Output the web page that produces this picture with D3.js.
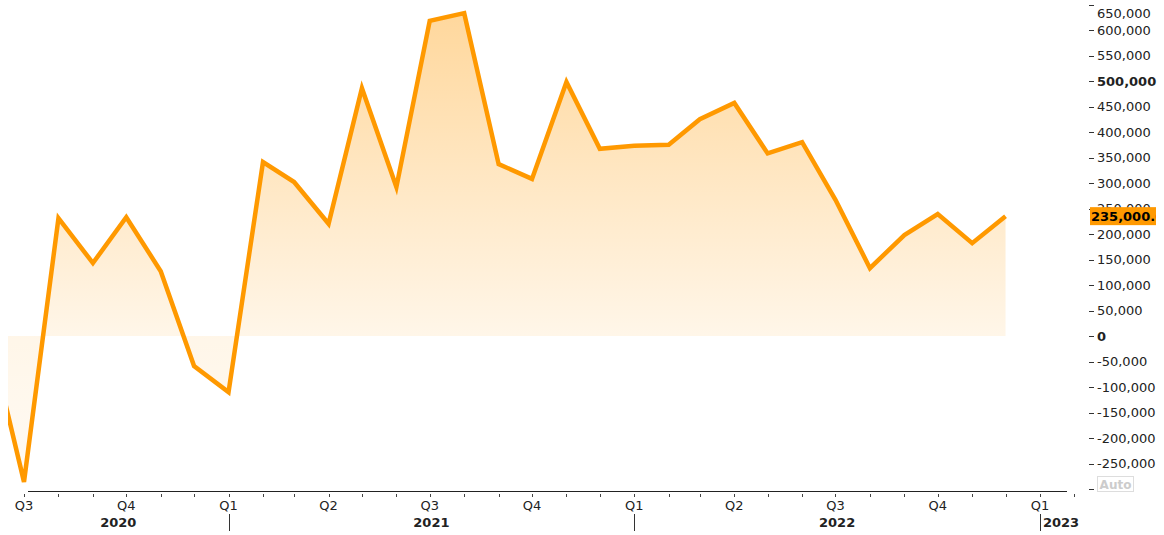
<!DOCTYPE html>
<html>
<head>
<meta charset="utf-8">
<script src="https://cdn.jsdelivr.net/npm/d3@7"></script>
<style>
    body { margin: 0; background: #fff; }
    text { font-family: "DejaVu Sans", Verdana, sans-serif; font-size: 13px; fill: #222; }
</style>
</head>
<body>
<svg id="s1"></svg>
<script>
//Data (monthly, first point is clipped at the left edge)
var months = ["2020-06", "2020-07", "2020-08", "2020-09", "2020-10", "2020-11", "2020-12",
    "2021-01", "2021-02", "2021-03", "2021-04", "2021-05", "2021-06", "2021-07", "2021-08",
    "2021-09", "2021-10", "2021-11", "2021-12",
    "2022-01", "2022-02", "2022-03", "2022-04", "2022-05", "2022-06", "2022-07", "2022-08",
    "2022-09", "2022-10", "2022-11", "2022-12"];
var values = [-12000, -286000, 231000, 143000, 233000, 127000, -59000,
    -110000, 341000, 302000, 220000, 486000, 292000, 618000, 633000,
    337000, 308000, 498000, 367000,
    373000, 375000, 425000, 457000, 358000, 380000, 267000, 133000,
    198000, 239000, 182000, 235000];
var yTicks = [-300000, -250000, -200000, -150000, -100000, -50000, 0, 50000, 100000, 150000,
    200000, 250000, 300000, 350000, 400000, 450000, 500000, 550000, 600000, 650000];
var boldTicks = [0, 500000];
var quarterLabels = ["Q1", "Q2", "Q3", "Q4"];
var years = [2020, 2021, 2022, 2023];
var lastLabel = "235,000.0";

//Variable definitions
var width = 1164;
var height = 535;
var plotLeft = 8;
var plotRight = 1067;
var plotBottom = 491;
var lineColor = "#ff9900";

var svg = d3.select("#s1").attr("width", width)
    .attr("height", height);

var data = months.map(function (m, i) {
    var p = m.split("-");
    return { date: new Date(Date.UTC(+p[0], +p[1] - 1, 1)), value: values[i] };
});

var x = d3.scaleUtc()
    .domain([new Date(Date.UTC(2020, 6, 1)), new Date(Date.UTC(2023, 0, 1))])
    .range([24, 1040]);

var y = d3.scaleLinear()
    .domain([-250000, 650000])
    .range([463.5, 4.5]);

var defs = svg.append("defs");

defs.append("clipPath").attr("id", "plotClip")
    .append("rect")
    .attr("x", plotLeft).attr("y", 0)
    .attr("width", plotRight - plotLeft).attr("height", plotBottom);

// gradient for the area fill
var grad = defs.append("linearGradient")
    .attr("id", "areaGrad")
    .attr("gradientUnits", "userSpaceOnUse")
    .attr("x1", 0).attr("y1", 0).attr("x2", 0).attr("y2", plotBottom);
grad.append("stop").attr("offset", 0).attr("stop-color", lineColor).attr("stop-opacity", 0.4);
grad.append("stop").attr("offset", 0.68).attr("stop-color", lineColor).attr("stop-opacity", 0.09);
grad.append("stop").attr("offset", 1).attr("stop-color", lineColor).attr("stop-opacity", 0.04);

var plot = svg.append("g").attr("clip-path", "url(#plotClip)");

var area = d3.area()
    .x(function (d) { return x(d.date); })
    .y0(y(0))
    .y1(function (d) { return y(d.value); });

var line = d3.line()
    .x(function (d) { return x(d.date); })
    .y(function (d) { return y(d.value); });

plot.append("path")
    .datum(data)
    .attr("d", area)
    .style("fill", "url(#areaGrad)");

plot.append("path")
    .datum(data)
    .attr("d", line)
    .style("fill", "none")
    .style("stroke", lineColor)
    .style("stroke-width", 4.5)
    .style("stroke-linejoin", "miter");

// X axis
svg.append("line")
    .attr("x1", 28).attr("x2", plotRight)
    .attr("y1", plotBottom + 0.5).attr("y2", plotBottom + 0.5)
    .style("stroke", "#222").style("stroke-width", 1);

var monthTicks = d3.utcMonth.range(new Date(Date.UTC(2020, 6, 1)), new Date(Date.UTC(2023, 1, 2)));
svg.selectAll(".mtick")
    .data(monthTicks)
    .enter().append("line")
    .attr("class", "mtick")
    .attr("x1", function (d) { return Math.round(x(d)) + 0.5; })
    .attr("x2", function (d) { return Math.round(x(d)) + 0.5; })
    .attr("y1", 494).attr("y2", 497)
    .style("stroke", "#444");

var quarters = d3.utcMonth.every(3).range(new Date(Date.UTC(2020, 6, 1)), new Date(Date.UTC(2023, 0, 2)));
svg.selectAll(".qlabel")
    .data(quarters)
    .enter().append("text")
    .attr("class", "qlabel")
    .attr("x", function (d) { return x(d); })
    .attr("y", 510)
    .attr("text-anchor", "middle")
    .text(function (d) { return quarterLabels[Math.floor(d.getUTCMonth() / 3)]; });

// year separators and labels
var yearStarts = years.slice(1).map(function (yr) { return new Date(Date.UTC(yr, 0, 1)); });
svg.selectAll(".ysep")
    .data(yearStarts)
    .enter().append("line")
    .attr("class", "ysep")
    .attr("x1", function (d) { return Math.round(x(d)) + 0.5; })
    .attr("x2", function (d) { return Math.round(x(d)) + 0.5; })
    .attr("y1", 514).attr("y2", 531)
    .style("stroke", "#333");

svg.selectAll(".ylabel")
    .data(years)
    .enter().append("text")
    .attr("class", "ylabel")
    .attr("x", function (yr) {
        var a = Math.max(plotLeft, x(new Date(Date.UTC(yr, 0, 1))));
        var b = Math.min(plotRight, x(new Date(Date.UTC(yr + 1, 0, 1))));
        return Math.max((a + b) / 2, a + 21);
    })
    .attr("y", 527)
    .attr("text-anchor", "middle")
    .style("font-weight", "bold")
    .text(function (yr) { return yr; });

// Y axis on the right
var fmt = function (d) { return d3.format(",")(d).replace("\u2212", "-"); };
svg.selectAll(".ytick")
    .data(yTicks)
    .enter().append("line")
    .attr("class", "ytick")
    .attr("x1", 1089).attr("x2", 1094)
    .attr("y1", function (d) { return Math.round(y(d)) + 0.5; })
    .attr("y2", function (d) { return Math.round(y(d)) + 0.5; })
    .style("stroke", "#333");

svg.selectAll(".ytext")
    .data(yTicks.filter(function (d) { return d > -300000; }))
    .enter().append("text")
    .attr("class", "ytext")
    .attr("x", 1097)
    .attr("y", function (d) { return Math.max(y(d), 13) + 4.5; })
    .style("font-weight", function (d) { return boldTicks.indexOf(d) >= 0 ? "bold" : "normal"; })
    .text(function (d) { return fmt(d); });

// last value tag
var last = data[data.length - 1];
defs.append("clipPath").attr("id", "tagClip")
    .append("rect").attr("x", 1090).attr("y", 0).attr("width", 66).attr("height", height);
var tag = svg.append("g").attr("clip-path", "url(#tagClip)");
tag.append("rect")
    .attr("x", 1090).attr("y", y(last.value) - 9)
    .attr("width", 66).attr("height", 18)
    .style("fill", lineColor);
tag.append("text")
    .attr("x", 1091).attr("y", y(last.value) + 5)
    .style("font-weight", "bold")
    .style("fill", "#000")
    .text(lastLabel);

// "Auto" button
svg.append("rect")
    .attr("x", 1097.5).attr("y", 476.5)
    .attr("width", 36).attr("height", 15)
    .style("fill", "#fff").style("stroke", "#ddd");
svg.append("text")
    .attr("x", 1115.5).attr("y", 488.5)
    .attr("text-anchor", "middle")
    .style("font-size", "12px")
    .style("font-weight", "bold")
    .style("fill", "#ccc")
    .text("Auto");
</script>
</body>
</html>
